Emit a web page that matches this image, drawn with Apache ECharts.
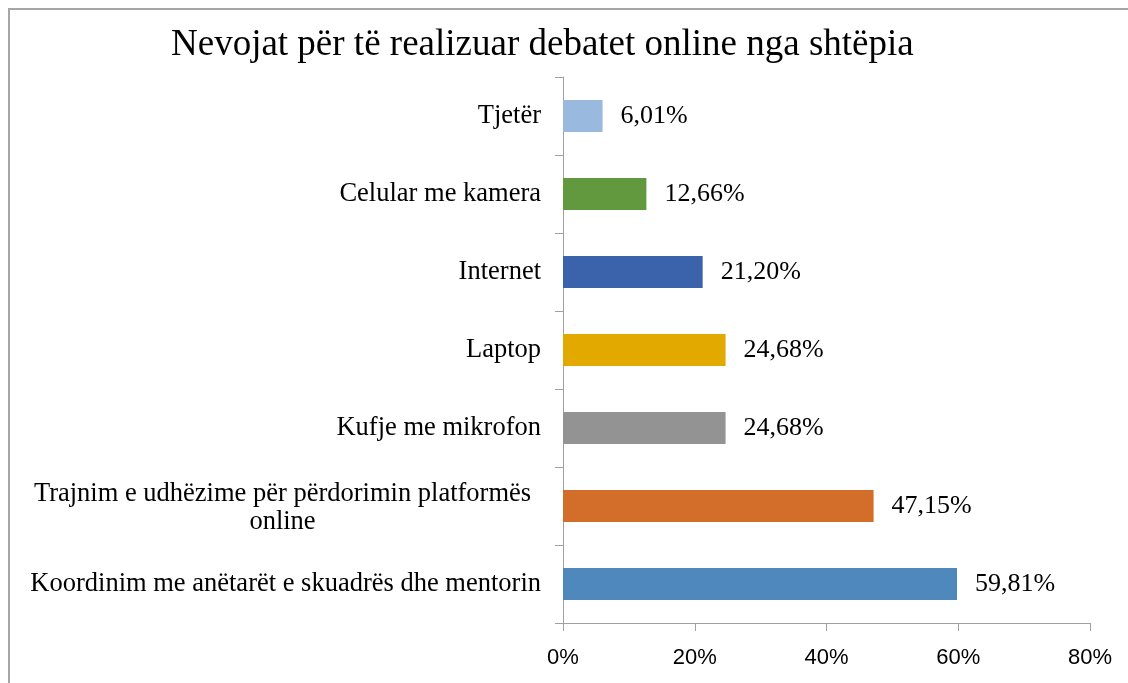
<!DOCTYPE html>
<html>
<head>
<meta charset="utf-8">
<script src="https://cdn.jsdelivr.net/npm/echarts@6/dist/echarts.min.js"></script>
<style>
  html, body { margin: 0; padding: 0; background: #fff; }
  #chart { width: 1128px; height: 683px; }
</style>
</head>
<body>
<div id="chart"></div>
<script>
// categories listed bottom -> top (category axis grows upward)
var categories = [
    'Koordinim me anëtarët e skuadrës dhe mentorin',
    'Trajnim e udhëzime për përdorimin platformës\nonline',
    'Kufje me mikrofon',
    'Laptop',
    'Internet',
    'Celular me kamera',
    'Tjetër'
];
var values = [59.81, 47.15, 24.68, 24.68, 21.20, 12.66, 6.01];
var barColors = ['#4e88bc', '#d36d2a', '#939393', '#e2a900', '#3b63ac', '#62993e', '#99b9df'];
var xTicks = [0, 20, 40, 60, 80];

var serif = '"Liberation Serif", "Times New Roman", serif';
var axisGray = '#a0a0a0';

var barData = values.map(function (v, i) {
    return { value: v, itemStyle: { color: barColors[i] } };
});

var chart = echarts.init(document.getElementById('chart'));
chart.setOption({
    animation: false,
    backgroundColor: '#fff',
    title: {
        text: 'Nevojat për të realizuar debatet online nga shtëpia',
        left: 166,
        top: 22,
        textStyle: { fontFamily: serif, fontSize: 37, fontWeight: 'normal', color: '#000' }
    },
    graphic: [{
        // chart frame: only top and left edges are visible in the picture
        type: 'rect',
        shape: { x: 9, y: 9, width: 1300, height: 800 },
        style: { fill: 'none', stroke: '#a6a6a6', lineWidth: 2 },
        silent: true
    }],
    grid: { left: 563, right: 38, top: 77, bottom: 60 },
    xAxis: {
        type: 'value',
        min: xTicks[0],
        max: xTicks[xTicks.length - 1],
        interval: 20,
        axisLine: { show: true, lineStyle: { color: axisGray, width: 1 } },
        axisTick: { show: true, length: 8, lineStyle: { color: axisGray } },
        splitLine: { show: false },
        axisLabel: {
            margin: 24,
            formatter: '{value}%',
            fontFamily: '"Liberation Sans", Arial, sans-serif',
            fontSize: 22,
            color: '#000'
        }
    },
    yAxis: {
        type: 'category',
        data: categories,
        axisLine: { show: true, lineStyle: { color: axisGray, width: 1 } },
        axisTick: { show: true, length: 8, lineStyle: { color: axisGray } },
        axisLabel: {
            margin: 22,
            fontFamily: serif,
            fontSize: 26.5,
            color: '#000',
            formatter: function (v) {
                if (v.indexOf('\n') < 0) return v;
                return v.split('\n').map(function (s) { return '{c|' + s + '}'; }).join('\n');
            },
            rich: {
                c: { width: 517, align: 'center', fontFamily: serif, fontSize: 26.5, lineHeight: 28, padding: [5, 0, 0, 0], color: '#000' }
            }
        }
    },
    series: [{
        type: 'bar',
        data: barData,
        barWidth: 32,
        label: {
            show: true,
            position: 'right',
            distance: 18,
            fontFamily: serif,
            fontSize: 26,
            color: '#000',
            formatter: function (p) {
                return p.value.toFixed(2).replace('.', ',') + '%';
            }
        }
    }]
});
</script>
</body>
</html>
